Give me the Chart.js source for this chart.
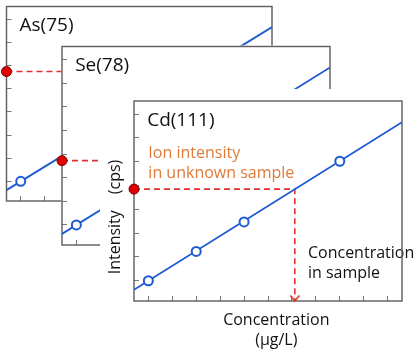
<!DOCTYPE html>
<html lang="en">
<head>
<meta charset="UTF-8">
<title>Calibration curves</title>
<script src="https://cdn.jsdelivr.net/npm/chart.js"></script>
<style>
    body {
        margin: 0;
        background: #fff;
        width: 417px;
        height: 352px;
        overflow: hidden;
        position: relative;
    }
    canvas { position: absolute; }
    #asChart { left: 0; top: 0; }
    #seChart { left: 52px; top: 40px; }
    #cdChart { left: 100px; top: 89px; background: #fff; }
</style>
</head>
<body>
<canvas id="asChart" width="290" height="210"></canvas>
<canvas id="seChart" width="290" height="215"></canvas>
<canvas id="cdChart" width="317" height="263"></canvas>
<script>
    // axis steps (no labels, only tick marks)
    const xTicks = [0, 1, 2, 3, 4, 5, 6, 7, 8, 9, 10];
    const yTicks = [0, 1, 2, 3, 4, 5, 6, 7];
    const xRange = [-0.6, 10.6];
    const yRange = [-0.85, 7.55];

    // calibration standards
    const stdConc = [0, 2, 4, 8];
    const stdIntensity = [0, 1.23, 2.47, 5.02];
    // fitted calibration line
    const fitConc = [-0.6, 10.6];
    const fitIntensity = [-0.38, 6.66];

    // unknown sample for each element
    const elements = ['As(75)', 'Se(78)', 'Cd(111)'];
    const sampleIntensity = [4.74, 2.72, 3.85];
    const sampleConc = [7.54, 4.32, 6.12];

    const BLUE = '#1c5bd4';
    const RED = '#e2302c';
    const ORANGE = '#e07a38';

    Chart.defaults.font.family = "'Open Sans', 'Noto Sans CJK JP', sans-serif";
    Chart.defaults.color = '#111';

    // small open arrow head for the read-off line
    const arrow = document.createElement('canvas');
    arrow.width = 12;
    arrow.height = 12;
    const actx = arrow.getContext('2d');
    actx.strokeStyle = RED;
    actx.lineWidth = 1.6;
    actx.beginPath();
    actx.moveTo(1.5, 0.5);
    actx.lineTo(6, 6);
    actx.lineTo(10.5, 0.5);
    actx.stroke();

    // white panel, box frame and in-plot text
    const panelPlugin = {
        id: 'panel',
        beforeDraw(chart, args, opts) {
            const { ctx, chartArea: a } = chart;
            if (opts.fill) {
                ctx.save();
                ctx.fillStyle = '#fff';
                ctx.fillRect(a.left - 1, a.top - 1, a.width + 2, a.height + 2);
                ctx.restore();
            }
        },
        beforeDatasetsDraw(chart, args, opts) {
            const { ctx, chartArea: a, scales } = chart;
            ctx.save();
            (opts.texts || []).forEach(t => {
                ctx.fillStyle = t.color || '#111';
                ctx.font = t.size + "px 'Open Sans', 'Noto Sans CJK JP', sans-serif";
                ctx.textBaseline = 'alphabetic';
                ctx.textAlign = 'left';
                const px = scales.x.getPixelForValue(t.x);
                const py = scales.y.getPixelForValue(t.y);
                t.lines.forEach((line, i) => ctx.fillText(line, px, py + i * (t.gap || 20)));
            });
            ctx.strokeStyle = '#5c5c5c';
            ctx.lineWidth = 1.4;
            ctx.strokeRect(a.left, a.top, a.width, a.height);
            ctx.restore();
        }
    };

    const makeChart = (id, i, opts) => {
        const yv = sampleIntensity[i];
        const xv = sampleConc[i];
        const bottom = yRange[0];
        new Chart(document.getElementById(id), {
            type: 'scatter',
            data: {
                datasets: [
                    { // measured intensity of the unknown
                        data: [{ x: xRange[0], y: yv }],
                        pointRadius: 5,
                        backgroundColor: '#e00000',
                        borderColor: '#7a0000',
                        borderWidth: 1,
                        clip: false
                    },
                    { // standards
                        data: stdConc.map((c, k) => ({ x: c, y: stdIntensity[k] })),
                        pointRadius: 4.5,
                        backgroundColor: '#fff',
                        borderColor: BLUE,
                        borderWidth: 2,
                        clip: false
                    },
                    { // arrow head
                        data: [{ x: xv, y: bottom }],
                        pointStyle: arrow,
                        clip: false
                    },
                    { // calibration line
                        data: fitConc.map((c, k) => ({ x: c, y: fitIntensity[k] })),
                        showLine: true,
                        pointRadius: 0,
                        borderColor: BLUE,
                        borderWidth: 1.8
                    },
                    { // read-off path
                        data: [{ x: xRange[0], y: yv }, { x: xv, y: yv }, { x: xv, y: bottom }],
                        showLine: true,
                        pointRadius: 0,
                        borderColor: RED,
                        borderWidth: 1.6,
                        borderDash: [6, 4]
                    }
                ]
            },
            options: {
                responsive: false,
                animation: false,
                events: [],
                layout: { padding: opts.padding },
                plugins: {
                    legend: { display: false },
                    tooltip: { enabled: false },
                    panel: { fill: opts.fill, texts: opts.texts }
                },
                scales: {
                    x: {
                        type: 'linear',
                        min: xRange[0],
                        max: xRange[1],
                        afterBuildTicks: s => { s.ticks = xTicks.map(v => ({ value: v })); },
                        afterFit: s => { s.height = opts.xHeight; },
                        ticks: { display: false },
                        border: { display: false },
                        grid: { drawOnChartArea: false, drawTicks: true, tickLength: -5, color: '#777' },
                        title: opts.xTitle || { display: false }
                    },
                    y: {
                        type: 'linear',
                        min: yRange[0],
                        max: yRange[1],
                        afterBuildTicks: s => { s.ticks = yTicks.map(v => ({ value: v })); },
                        afterFit: s => { s.width = opts.yWidth; },
                        ticks: { display: false },
                        border: { display: false },
                        grid: { drawOnChartArea: false, drawTicks: true, tickLength: -5, color: '#777' },
                        title: opts.yTitle || { display: false }
                    }
                }
            },
            plugins: [panelPlugin]
        });
    };

    const titleText = name => ({ lines: [name], x: -0.05, y: 6.5, size: 19 });

    makeChart('asChart', 0, {
        padding: { left: 4, top: 1, right: 18, bottom: 9 },
        xHeight: 0, yWidth: 0, fill: true,
        texts: [titleText(elements[0])]
    });
    makeChart('seChart', 1, {
        padding: { left: 10, top: 5, right: 12, bottom: 10 },
        xHeight: 0, yWidth: 0, fill: true,
        texts: [titleText(elements[1])]
    });
    makeChart('cdChart', 2, {
        padding: { left: 0, top: 12, right: 15, bottom: 0 },
        xHeight: 51, yWidth: 34, fill: false,
        texts: [
            titleText(elements[2]),
            { lines: ['Ion intensity', 'in unknown sample'], x: 0, y: 5.16, size: 16, color: ORANGE, gap: 20 },
            { lines: ['Concentration', 'in sample'], x: 6.67, y: 0.96, size: 16, gap: 20 }
        ],
        xTitle: {
            display: true,
            text: ['    Concentration', '    (µg/L)'],
            font: { size: 16, lineHeight: '20px' },
            padding: { top: 0, bottom: 2 }
        },
        yTitle: {
            display: true,
            text: 'Intensity\u3000(cps)\u3000\u3000',
            font: { size: 16, lineHeight: 1.2 },
            padding: { top: 6, bottom: 0 }
        }
    });
</script>
</body>
</html>
